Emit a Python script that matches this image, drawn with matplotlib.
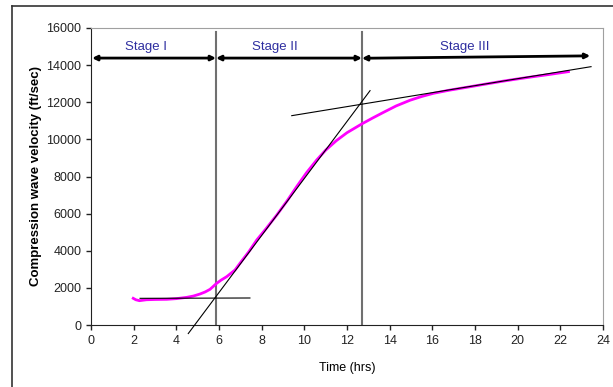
import numpy as np
import matplotlib.pyplot as plt
from matplotlib.lines import Line2D

plt.rcParams['font.family'] = ['Liberation Sans', 'DejaVu Sans']

time_hrs = [1.98, 2.1, 2.27, 2.6, 3.0, 3.55, 4.0, 4.49, 4.8, 5.11, 5.35, 5.58, 5.89,
            6.1, 6.36, 6.75, 7.0, 7.4, 7.77, 8.2, 8.71, 9.2, 9.64, 10.1, 10.58,
            11.0, 11.5, 12.0, 12.69, 13.2, 13.7, 14.3, 14.96, 15.5, 16.05, 16.8,
            17.61, 18.4, 19.17, 19.9, 20.74, 21.5, 22.38]
velocity = [1437, 1360, 1310, 1360, 1375, 1384, 1420, 1490, 1560, 1670, 1780, 1922, 2245,
            2420, 2603, 2963, 3350, 3950, 4580, 5180, 5927, 6700, 7451, 8200, 8890,
            9420, 9930, 10360, 10830, 11150, 11450, 11800, 12110, 12310, 12482, 12650,
            12805, 12960, 13110, 13240, 13380, 13500, 13650]

# hand-drawn tangent lines (endpoints)
tan1_x, tan1_y = [2.30, 7.45], [1437, 1455]
tan2_x, tan2_y = [4.56, 13.08], [-460, 12625]
tan3_x, tan3_y = [9.41, 23.44], [11277, 13917]

# stage boundaries and labels
stage_bounds = [5.86, 12.7]
stage_names = ["Stage I", "Stage II", "Stage III"]
stage_label_x = [2.6, 8.6, 17.5]
arrow_x = [(0.05, 5.86), (5.86, 12.7), (12.7, 23.4)]
arrow_y = [(14380, 14380), (14380, 14380), (14370, 14500)]

fig = plt.figure(figsize=(6.13, 3.87), dpi=100)
ax = fig.add_axes([91 / 613, 62 / 387, 512 / 613, 297 / 387])

# outer frame lines (top and left only)
fig.add_artist(Line2D([12 / 613, 1], [1 - 6 / 387, 1 - 6 / 387], color='#333333', lw=1.2))
fig.add_artist(Line2D([12 / 613, 12 / 613], [0, 1 - 6 / 387], color='#333333', lw=1.2))

ax.plot(time_hrs, velocity, color='#FF00FF', lw=2, zorder=3)

for tx, ty in [(tan1_x, tan1_y), (tan2_x, tan2_y), (tan3_x, tan3_y)]:
    ax.plot(tx, ty, color='black', lw=0.8, clip_on=False, zorder=4)

for b in stage_bounds:
    ax.plot([b, b], [0, 15800], color='#707070', lw=1.5, zorder=2)

for (x0, x1), (y0, y1) in zip(arrow_x, arrow_y):
    ax.annotate('', xy=(x1, y1), xytext=(x0, y0),
                arrowprops=dict(arrowstyle='<|-|>', color='black', lw=2,
                                mutation_scale=7, shrinkA=0, shrinkB=0))

for name, lx in zip(stage_names, stage_label_x):
    ax.text(lx, 15000, name, color='#2E2EA0', fontsize=9.5, ha='center', va='center')

ax.set_xlim(0, 24)
ax.set_ylim(0, 16000)
ax.set_xticks(np.arange(0, 25, 2))
ax.set_yticks(np.arange(0, 16001, 2000))
ax.tick_params(direction='out', length=3.5, labelsize=9, colors='#222222', width=1)

for s in ['top', 'right']:
    ax.spines[s].set_color('#A0A0A0')
for s in ['left', 'bottom']:
    ax.spines[s].set_color('#222222')

ax.set_xlabel('Time (hrs)', fontsize=9, labelpad=11)
ax.set_ylabel('Compression wave velocity (ft/sec)', fontsize=9.5, fontweight='bold', labelpad=3)

fig.savefig('out.png', dpi=100)
